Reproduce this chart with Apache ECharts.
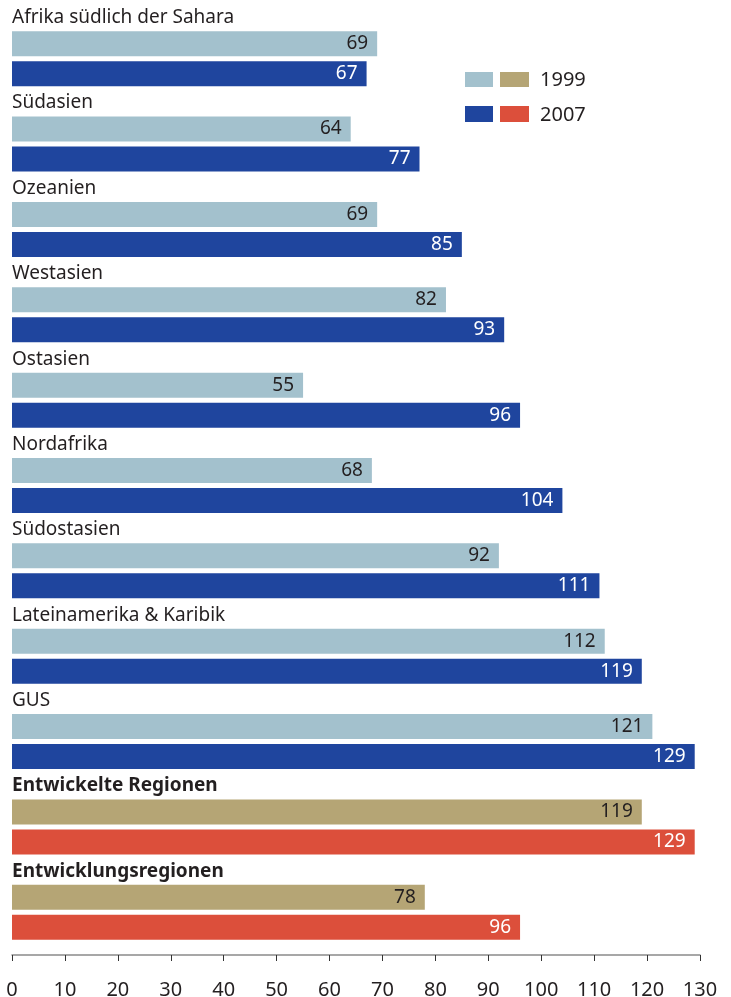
<!DOCTYPE html>
<html>
<head>
<meta charset="utf-8">
<script src="https://cdn.jsdelivr.net/npm/echarts@6/dist/echarts.min.js"></script>
<style>
html,body{margin:0;padding:0;background:#fff;}
#chart{width:731px;height:997px;}
</style>
</head>
<body>
<div id="chart"></div>
<script>
const categories = ['Afrika südlich der Sahara','Südasien','Ozeanien','Westasien','Ostasien','Nordafrika','Südostasien','Lateinamerika & Karibik','GUS','Entwickelte Regionen','Entwicklungsregionen'];
const values1999 = [69,64,69,82,55,68,92,112,121,119,78];
const values2007 = [67,77,85,93,96,104,111,119,129,129,96];
const isAggregate = [false,false,false,false,false,false,false,false,false,true,true];
const xTicks = {min:0, max:130, interval:10};
const seriesNames = ['1999','2007'];

const FONT = 'Noto Sans';
const C = {
  r1999:'#a3c1cd', r2007:'#1f459e',
  a1999:'#b5a575', a2007:'#dc4f3b',
  text:'#231f20'
};

function mk(vals, year){
  return vals.map((v,i)=>{
    const agg = isAggregate[i];
    let color, lbl;
    if(year==='1999'){ color = agg?C.a1999:C.r1999; lbl = C.text; }
    else { color = agg?C.a2007:C.r2007; lbl = '#ffffff'; }
    return {value:v, itemStyle:{color:color}, label:{color:lbl}};
  });
}

const chart = echarts.init(document.getElementById('chart'), null, {renderer:'canvas'});
const labelCommon = {show:true, position:'insideRight', distance:9, fontFamily:FONT, fontSize:19};
chart.setOption({
  animation:false,
  grid:{left:12, right:31, top:16, bottom:42, containLabel:false, outerBoundsMode:'none'},
  xAxis:{
    type:'value', min:xTicks.min, max:xTicks.max, interval:xTicks.interval,
    axisLine:{show:true, lineStyle:{color:'#8a8a8a', width:1.5}},
    axisTick:{show:true, length:6, lineStyle:{color:'#333', width:1}},
    axisLabel:{margin:25, color:C.text, fontFamily:FONT, fontSize:20},
    splitLine:{show:false}
  },
  yAxis:{
    type:'category', data:categories, inverse:true,
    axisLine:{show:false}, axisTick:{show:false},
    axisLabel:{
      inside:true, margin:0, verticalAlign:'bottom', lineHeight:24,
      padding:[0,0,29,0],
      formatter:(v,i)=> isAggregate[i] ? '{b|'+v+'}' : '{n|'+v+'}',
      rich:{
        n:{fontFamily:FONT, fontSize:19, color:C.text, lineHeight:24},
        b:{fontFamily:FONT, fontSize:19, fontWeight:'bold', color:C.text, lineHeight:24}
      }
    }
  },
  series:[
    {name:seriesNames[0], type:'bar', data:mk(values1999,'1999'), barWidth:25, barGap:'20%', label:Object.assign({},labelCommon)},
    {name:seriesNames[1], type:'bar', data:mk(values2007,'2007'), barWidth:25, barGap:'20%', label:Object.assign({},labelCommon)}
  ],
  graphic:[
    {type:'rect', shape:{x:465,y:72,width:28,height:15}, style:{fill:C.r1999}},
    {type:'rect', shape:{x:500,y:72,width:29,height:15}, style:{fill:C.a1999}},
    {type:'text', x:540, y:80, style:{text:seriesNames[0], fill:C.text, font:'20px "Noto Sans"', verticalAlign:'middle'}},
    {type:'rect', shape:{x:465,y:106,width:28,height:16}, style:{fill:C.r2007}},
    {type:'rect', shape:{x:500,y:106,width:29,height:16}, style:{fill:C.a2007}},
    {type:'text', x:540, y:115, style:{text:seriesNames[1], fill:C.text, font:'20px "Noto Sans"', verticalAlign:'middle'}}
  ]
});
</script>
</body>
</html>
